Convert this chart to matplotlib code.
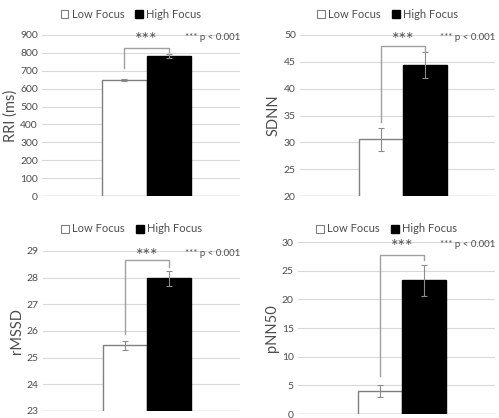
import matplotlib
matplotlib.use("Agg")
import matplotlib.pyplot as plt
from matplotlib.patches import Patch

plt.rcParams["font.family"] = ["Lato", "DejaVu Sans"]

# values
metrics = ["RRI (ms)", "SDNN", "rMSSD", "pNN50"]
low_means = [648, 30.6, 25.47, 3.95]
low_err = [5, 2.15, 0.17, 1.05]
high_means = [782, 44.4, 27.97, 23.3]
high_err = [12, 2.35, 0.27, 2.7]
y_limits = [(0, 900), (20, 50), (23, 29), (0, 30)]
y_steps = [100, 5, 1, 5]

# significance bracket (top, left leg end, right leg end) per panel
bracket_top = [829, 48.0, 28.65, 27.7]
bracket_left = [716, 33.7, 25.9, 6.7]
bracket_right = [807, 46.8, 28.4, 26.8]
legend_labels = ["Low Focus", "High Focus"]
note = "*** p < 0.001"

TEXT = "#4d4d4d"
GRID = "#d9d9d9"
LINE = "#a0a0a0"
EDGE = "#7f7f7f"

fig = plt.figure(figsize=(4.99, 4.18), dpi=100)
W, H = 499, 418
# axes boxes in pixels: left, top, right, bottom
boxes = [(42, 35, 240, 196), (300, 35, 495, 196),
         (43, 251, 240, 411), (298, 242, 495, 414)]
legend_y = [14, 14, 229, 229]

for i, (l, t, r, b) in enumerate(boxes):
    ax = fig.add_axes([l / W, 1 - b / H, (r - l) / W, (b - t) / H])
    ax.bar(-0.5, low_means[i], width=1, color="white", edgecolor=EDGE,
           linewidth=1.0, zorder=3)
    ax.bar(0.5, high_means[i], width=1, color="black", edgecolor="black",
           linewidth=1.0, zorder=3)
    ax.errorbar([-0.5, 0.5], [low_means[i], high_means[i]],
                yerr=[low_err[i], high_err[i]], fmt="none", ecolor="#8c8c8c",
                elinewidth=0.8, capsize=2, capthick=0.8, zorder=4)
    lo, hi = y_limits[i]
    ax.set_ylim(lo, hi)
    ax.set_xlim(-2.35, 2.1)
    ax.set_yticks(range(lo, hi + 1, y_steps[i]))
    ax.set_xticks([])
    ax.grid(axis="y", color=GRID, linewidth=0.8, zorder=0)
    for s in ax.spines.values():
        s.set_visible(False)
    ax.axhline(lo, color=LINE, linewidth=0.9, zorder=2)
    ax.tick_params(axis="y", length=0, pad=3, labelsize=7.5, labelcolor=TEXT)
    ax.set_ylabel(metrics[i], fontsize=10.5, color=TEXT, labelpad=2)

    # bracket
    ax.plot([-0.5, -0.5, 0.5, 0.5],
            [bracket_left[i], bracket_top[i], bracket_top[i], bracket_right[i]],
            color=LINE, linewidth=1.0, clip_on=False, zorder=5)
    ax.text(0, 0.97, "***", transform=ax.get_xaxis_transform(), ha="center",
            va="center", fontsize=13, color=TEXT)
    ax.text(0.72, 0.985, note, transform=ax.transAxes, ha="left", va="center",
            fontsize=7, color=TEXT)

    handles = [Patch(facecolor="white", edgecolor=EDGE, linewidth=0.8),
               Patch(facecolor="black", edgecolor="black")]
    fig.legend(handles, legend_labels, loc="center",
               bbox_to_anchor=((l + r) / 2 / W - 0.02, 1 - legend_y[i] / H),
               ncol=2, frameon=False, fontsize=8, labelcolor=TEXT,
               handlelength=0.7, handleheight=0.7, handletextpad=0.3,
               columnspacing=1.0)

fig.savefig("out.png", dpi=100)
